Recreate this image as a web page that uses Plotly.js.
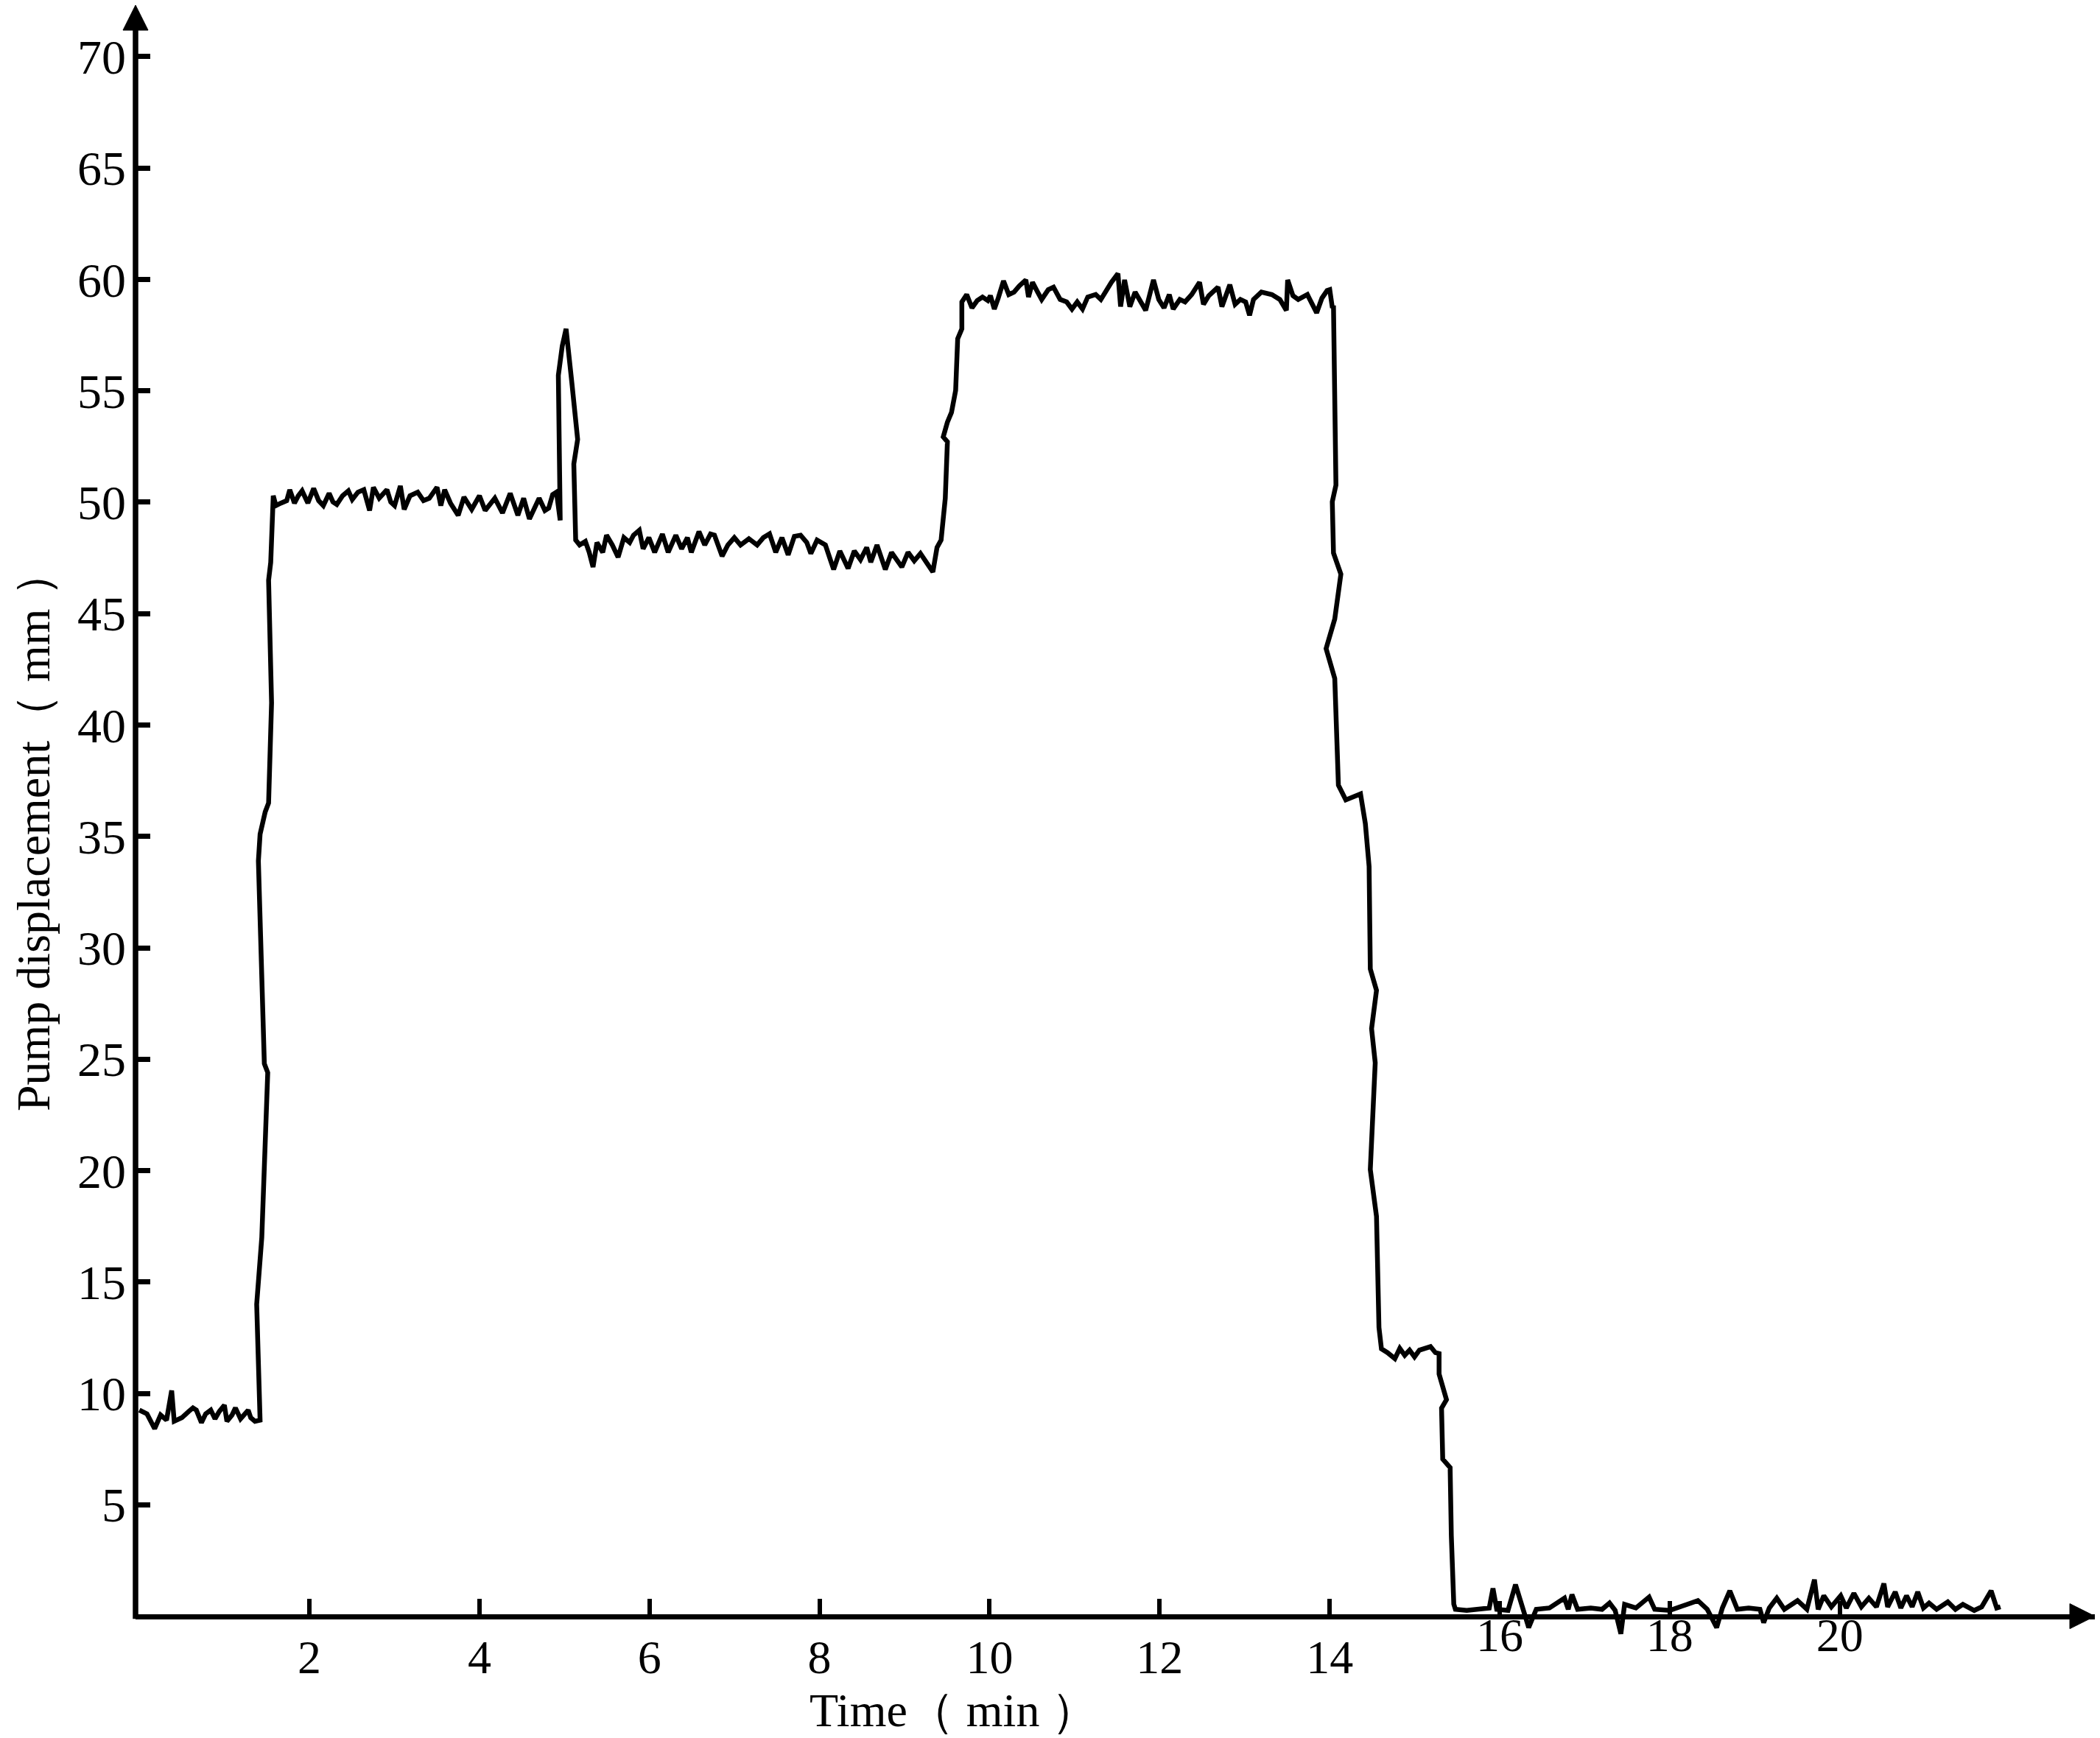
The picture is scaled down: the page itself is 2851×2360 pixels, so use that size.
<!DOCTYPE html>
<html>
<head>
<meta charset="utf-8">
<script src="https://cdn.plot.ly/plotly-3.0.1.min.js"></script>
<style>html,body{margin:0;padding:0;background:#fff;}</style>
</head>
<body>
<div id="chart" style="width:2851px;height:2360px;"></div>
<script>
// ---- data ----
const time = [
0.00,0.09,0.18,0.25,0.32,0.38,0.41,0.50,0.58,0.63,0.67,0.73,0.78,0.84,0.89,0.94,1.00,1.03,1.09,1.13,1.19,1.28,1.31,1.36,1.42,
1.38,1.44,1.49,1.51,1.47,1.40,1.42,1.48,1.52,1.555,1.52,1.545,
1.575,1.606,1.665,1.733,1.769,1.824,1.869,1.914,1.982,2.050,2.109,2.164,2.232,2.277,2.322,2.390,2.458,2.504,2.571,2.640,2.708,2.753,2.821,2.912,2.957,3.002,3.070,3.115,3.183,3.274,3.342,3.410,3.501,3.546,3.591,3.659,3.750,3.818,3.909,4.000,4.067,4.181,4.271,4.362,4.452,4.520,4.588,4.634,4.702,4.770,4.815,4.861,4.906,
4.950,4.928,4.974,5.019,5.087,5.155,5.110,5.132,
5.178,5.246,5.291,5.336,5.382,5.450,5.495,5.563,5.631,5.699,5.767,5.812,5.880,5.925,5.993,6.061,6.152,6.220,6.310,6.378,6.446,6.492,6.582,6.650,6.718,6.764,6.854,6.922,
6.998,7.071,7.169,7.266,7.339,7.412,7.485,7.558,7.631,7.704,7.777,7.850,7.898,7.971,8.069,8.166,8.239,8.336,8.409,8.482,8.555,8.603,8.676,8.774,8.847,8.968,9.041,9.114,9.187,9.284,9.333,
9.382,9.430,9.479,9.504,9.455,9.504,9.552,9.601,9.625,9.674,9.674,
9.731,9.793,9.855,9.917,9.979,10.010,10.056,10.102,10.164,10.226,10.288,10.350,10.427,10.458,10.505,10.566,10.613,10.690,10.752,10.830,10.907,10.969,11.031,11.093,11.155,11.248,11.309,11.433,11.510,11.541,11.588,11.650,11.712,11.836,11.928,11.990,12.052,12.114,12.160,12.238,12.299,12.377,12.470,12.516,12.578,12.687,12.733,12.826,12.888,12.950,13.012,13.058,13.104,13.197,13.321,13.414,13.491,13.506,13.568,13.630,13.738,13.847,13.909,13.970,14.001,14.032,
14.045,14.074,14.031,14.045,14.132,14.060,13.958,14.060,14.089,14.103,14.190,14.363,14.420,14.464,14.478,14.551,14.493,14.536,14.478,14.551,14.580,14.609,
14.680,14.767,14.825,14.883,14.940,14.998,15.056,15.114,15.186,15.244,15.287,
15.287,15.374,15.316,15.330,15.417,15.431,15.460,
15.479,15.612,15.744,15.877,15.921,15.965,16.098,16.186,16.341,16.430,16.585,16.762,16.806,16.850,16.916,17.071,17.204,17.292,17.358,17.425,17.469,17.602,17.757,17.823,18.000,18.176,18.331,18.441,18.552,18.619,18.707,18.795,18.928,19.061,19.105,19.171,19.259,19.348,19.503,19.613,19.702,19.746,19.812,19.901,20.011,20.077,20.166,20.254,20.342,20.431,20.519,20.563,20.652,20.718,20.785,20.851,20.917,20.984,21.050,21.139,21.271,21.360,21.448,21.581,21.669,21.780,21.846,21.890
];
const displacement = [
9.25,9.08,8.42,9.03,8.80,10.13,8.75,8.91,9.19,9.35,9.25,8.69,9.08,9.25,8.86,9.19,9.47,8.75,9.03,9.35,8.86,9.25,8.91,8.75,8.80,
14.0,17.0,22.0,24.4,24.8,33.9,35.1,36.1,36.5,41.0,46.5,47.3,
50.29,49.85,49.96,50.07,50.56,49.96,50.29,50.51,49.96,50.62,50.07,49.85,50.40,50.01,49.90,50.29,50.51,50.12,50.45,50.56,49.63,50.67,50.18,50.56,50.01,49.85,50.73,49.68,50.29,50.45,50.07,50.18,50.67,49.85,50.56,49.96,49.41,50.23,49.68,50.29,49.63,50.18,49.52,50.40,49.41,50.18,49.25,49.63,50.18,49.63,49.74,50.34,50.45,
49.19,55.69,57.01,57.78,55.36,52.82,51.72,48.30,
48.08,48.24,47.75,47.09,48.19,47.75,48.52,48.08,47.53,48.41,48.19,48.52,48.74,47.91,48.41,47.75,48.57,47.75,48.52,47.91,48.41,47.75,48.68,48.08,48.57,48.52,47.58,48.08,
48.41,48.08,48.36,48.08,48.41,48.58,47.75,48.41,47.64,48.47,48.52,48.19,47.70,48.30,48.08,46.98,47.81,47.03,47.81,47.42,47.97,47.31,48.08,46.98,47.75,47.09,47.75,47.37,47.70,47.20,46.87,
47.97,48.30,50.18,52.71,52.93,53.59,54.03,55.02,57.34,57.78,58.99,
59.32,58.72,59.05,59.21,59.05,59.27,58.67,59.16,59.93,59.32,59.43,59.71,59.98,59.21,59.87,59.43,59.10,59.54,59.65,59.10,58.99,58.67,58.99,58.67,59.21,59.32,59.10,59.87,60.26,58.78,59.98,58.78,59.43,58.61,59.98,59.10,58.72,59.32,58.67,59.10,58.99,59.32,59.87,58.88,59.27,59.65,58.78,59.76,58.88,59.10,58.99,58.39,59.10,59.43,59.32,59.10,58.61,59.98,59.27,59.10,59.32,58.50,59.16,59.50,59.54,58.72,
58.83,50.77,50.02,47.72,46.77,44.76,43.43,42.09,39.41,37.30,36.64,36.91,35.57,33.65,29.05,28.09,26.37,24.84,20.05,17.94,12.96,12.00,
11.83,11.56,12.02,11.71,11.94,11.64,11.94,12.02,12.10,11.83,11.79,
10.87,9.72,9.34,7.05,6.67,3.61,0.54,
0.31,0.26,0.31,0.37,1.25,0.31,0.26,1.42,-0.51,0.31,0.37,0.81,0.31,0.97,0.31,0.37,0.31,0.59,0.26,-0.79,0.53,0.37,0.86,0.31,0.26,0.48,0.70,0.31,-0.51,0.37,1.14,0.31,0.37,0.31,-0.29,0.37,0.81,0.31,0.70,0.31,1.64,0.31,0.92,0.42,0.92,0.37,1.03,0.42,0.81,0.42,1.47,0.42,1.09,0.37,0.92,0.42,1.09,0.37,0.59,0.31,0.64,0.31,0.53,0.26,0.42,1.14,0.37,0.42
];
const xTicksLow = [2, 4, 6, 8, 10, 12, 14];
const xTicksHigh = [16, 18, 20];
const yTicks = [5, 10, 15, 20, 25, 30, 35, 40, 45, 50, 55, 60, 65, 70];
const xTitle = 'Time（ min ）';
const yTitle = 'Pump displacement（ mm ）';

// ---- layout ----
const W = 2851, H = 2360;
const M = {l: 184, r: 7, t: 7, b: 120};
const plotW = W - M.l - M.r, plotH = H - M.t - M.b;
const xRange = [-0.045, 23.0];
const yRange = [-1.5, 72.31];
const xAxisPos = (0 - yRange[0]) / (yRange[1] - yRange[0]);
const serif = 'Liberation Serif, "Times New Roman", serif';
const arrowLen = 34, arrowHalf = 17;

const trace = {
  x: time, y: displacement, type: 'scatter', mode: 'lines',
  line: {color: '#000', width: 6.5}, hoverinfo: 'skip'
};
const helper = {x: [], y: [], xaxis: 'x2', type: 'scatter', mode: 'lines', hoverinfo: 'skip'};

const ax = arrowLen / plotW, ay = arrowLen / plotH;
const hx = arrowHalf / plotW, hy = arrowHalf / plotH;

const xCommon = {
  range: xRange, anchor: 'free', position: xAxisPos,
  showgrid: false, zeroline: false,
  tickmode: 'array',
  ticks: 'inside', ticklen: 21, tickwidth: 6, tickcolor: '#000',
  tickfont: {family: serif, size: 64, color: '#000'}
};

const layout = {
  width: W, height: H,
  margin: {l: M.l, r: M.r, t: M.t, b: M.b, pad: 0},
  paper_bgcolor: '#fff', plot_bgcolor: '#fff',
  showlegend: false,
  font: {family: serif, color: '#000'},
  xaxis: Object.assign({}, xCommon, {
    showline: true, linecolor: '#000', linewidth: 7.5,
    tickvals: xTicksLow, ticktext: xTicksLow.map(String),
    ticklabelstandoff: -4
  }),
  xaxis2: Object.assign({}, xCommon, {
    overlaying: 'x', matches: 'x', side: 'bottom', showline: false,
    tickvals: xTicksHigh, ticktext: xTicksHigh.map(String),
    ticklabelstandoff: -18
  }),
  yaxis: {
    range: yRange, showline: false,
    showgrid: false, zeroline: false,
    tickmode: 'array', tickvals: yTicks, ticktext: yTicks.map(String),
    ticks: 'inside', ticklen: 20, tickwidth: 7, tickcolor: '#000',
    tickfont: {family: serif, size: 66, color: '#000'},
    ticklabelstandoff: 12
  },
  shapes: [
    {type: 'line', xref: 'paper', yref: 'paper', x0: 0, x1: 0,
     y0: xAxisPos - 3.75 / plotH, y1: 1 - ay * 0.6, line: {color: '#000', width: 7.5}},
    {type: 'path', xref: 'paper', yref: 'paper',
     path: `M ${-hx} ${1 - ay} L ${hx} ${1 - ay} L 0 1 Z`,
     fillcolor: '#000', line: {color: '#000', width: 1}},
    {type: 'path', xref: 'paper', yref: 'paper',
     path: `M ${1 - ax} ${xAxisPos - hy} L ${1 - ax} ${xAxisPos + hy} L 1 ${xAxisPos} Z`,
     fillcolor: '#000', line: {color: '#000', width: 1}}
  ],
  annotations: [
    {text: xTitle, xref: 'paper', yref: 'paper',
     x: (1295 - M.l) / plotW, y: (H - M.b - 2322) / plotH,
     xanchor: 'center', yanchor: 'middle', showarrow: false,
     font: {family: serif, size: 64, color: '#000'}},
    {text: yTitle, xref: 'paper', yref: 'paper', textangle: -90,
     x: (45 - M.l) / plotW, y: (H - M.b - 1128) / plotH,
     xanchor: 'center', yanchor: 'middle', showarrow: false,
     font: {family: serif, size: 64, color: '#000'}}
  ]
};

Plotly.newPlot('chart', [trace, helper], layout, {staticPlot: true, displayModeBar: false});
</script>
</body>
</html>
